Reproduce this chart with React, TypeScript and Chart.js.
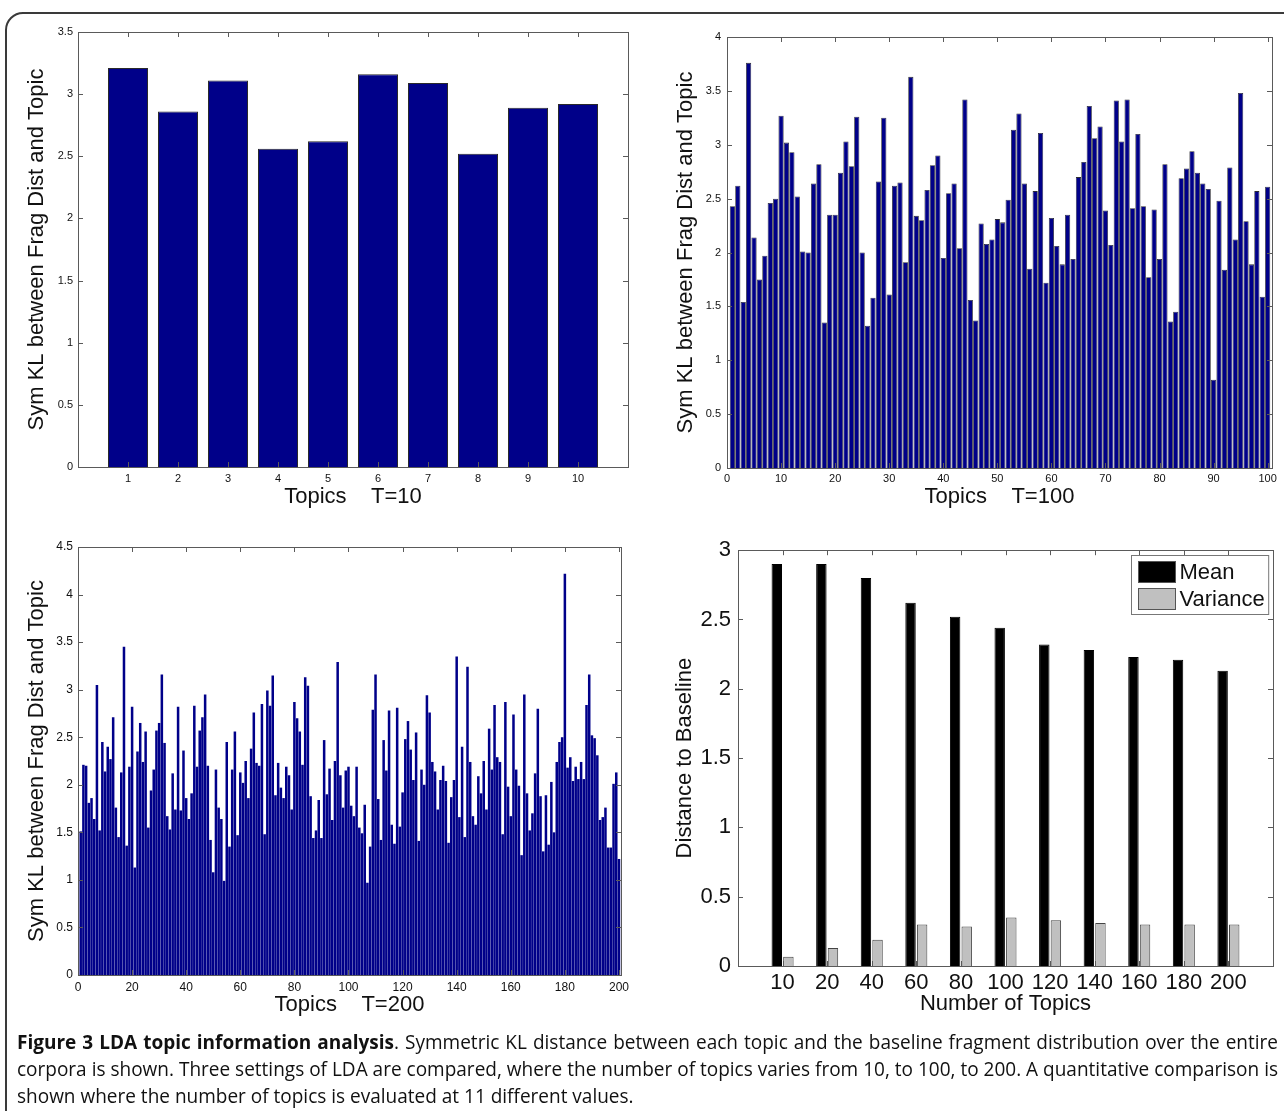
import React, { useEffect, useRef } from 'react';
import { Chart, registerables } from 'chart.js';

Chart.register(...registerables);

const FONT = '"Liberation Sans", Arial, Helvetica, sans-serif';
const BLUE = '#000089';

// ---------- Data ----------
const t10Topics = [1, 2, 3, 4, 5, 6, 7, 8, 9, 10];
const t10Values = [3.21, 2.86, 3.11, 2.56, 2.62, 3.16, 3.09, 2.52, 2.89, 2.92];
const t10XTicks = [1, 2, 3, 4, 5, 6, 7, 8, 9, 10];
const t10YTicks = [0, 0.5, 1, 1.5, 2, 2.5, 3, 3.5];

const t100Topics = Array.from({ length: 100 }, (_, i) => i + 1);
const t100Values = [
  2.43, 2.62, 1.54, 3.76, 2.14, 1.75, 1.97, 2.46, 2.5, 3.27,
  3.02, 2.93, 2.52, 2.01, 2.0, 2.64, 2.82, 1.35, 2.35, 2.35,
  2.74, 3.03, 2.8, 3.26, 2.0, 1.32, 1.58, 2.66, 3.25, 1.61,
  2.62, 2.65, 1.91, 3.63, 2.34, 2.3, 2.58, 2.81, 2.9, 1.95,
  2.55, 2.64, 2.04, 3.42, 1.56, 1.37, 2.27, 2.08, 2.12, 2.31,
  2.28, 2.49, 3.14, 3.29, 2.64, 1.85, 2.57, 3.11, 1.72, 2.32,
  2.06, 1.89, 2.35, 1.94, 2.7, 2.84, 3.36, 3.06, 3.17, 2.39,
  2.07, 3.41, 3.03, 3.42, 2.41, 3.1, 2.43, 1.77, 2.4, 1.94,
  2.82, 1.36, 1.45, 2.69, 2.78, 2.94, 2.74, 2.64, 2.59, 0.82,
  2.48, 1.84, 2.79, 2.12, 3.48, 2.29, 1.89, 2.57, 1.59, 2.61,
];
const t100XTicks = [0, 10, 20, 30, 40, 50, 60, 70, 80, 90, 100];
const t100YTicks = [0, 0.5, 1, 1.5, 2, 2.5, 3, 3.5, 4];

const t200Topics = Array.from({ length: 200 }, (_, i) => i + 1);
const t200Values = [
  1.51, 2.21, 2.2, 1.81, 1.86, 1.64, 3.05, 1.52, 2.45, 2.14,
  2.4, 2.27, 2.71, 1.76, 1.45, 2.13, 3.45, 1.36, 2.19, 2.82,
  1.13, 2.35, 2.65, 2.24, 2.56, 1.55, 1.94, 2.16, 2.57, 2.65,
  3.16, 2.44, 1.67, 1.53, 2.12, 1.74, 2.82, 1.73, 2.36, 1.86,
  1.64, 1.91, 2.83, 2.19, 2.57, 2.71, 2.95, 2.2, 1.42, 1.08,
  2.16, 1.76, 1.64, 0.99, 2.45, 1.35, 2.16, 2.56, 1.47, 2.13,
  2.02, 2.25, 1.86, 2.38, 2.76, 2.23, 2.2, 2.85, 1.48, 2.99,
  2.83, 3.15, 1.89, 2.23, 1.97, 1.86, 2.19, 2.1, 1.74, 2.87,
  2.7, 2.56, 2.21, 3.13, 3.04, 1.88, 1.44, 1.52, 1.84, 1.44,
  2.47, 1.9, 2.17, 1.63, 2.25, 3.29, 2.1, 1.76, 2.15, 2.19,
  1.78, 1.67, 2.19, 1.55, 1.49, 1.79, 0.97, 1.35, 2.79, 3.16,
  1.85, 1.42, 2.47, 2.15, 2.78, 1.58, 1.38, 2.81, 1.56, 1.92,
  2.48, 2.67, 2.37, 2.05, 2.55, 1.41, 2.16, 2.0, 2.94, 2.76,
  2.24, 2.14, 1.74, 2.05, 2.2, 2.04, 1.39, 1.87, 2.05, 3.35,
  1.66, 2.4, 1.45, 3.24, 2.24, 1.67, 1.58, 2.09, 1.91, 2.25,
  1.74, 2.59, 2.16, 2.84, 2.29, 2.24, 1.48, 2.87, 1.98, 1.67,
  2.74, 2.16, 1.99, 1.26, 2.95, 1.91, 1.52, 1.7, 2.12, 2.8,
  1.88, 1.3, 1.89, 1.37, 2.03, 1.5, 2.24, 2.45, 2.5, 4.22,
  2.18, 2.29, 2.04, 2.19, 2.06, 2.24, 2.06, 2.84, 3.16, 2.52,
  2.49, 2.31, 1.63, 1.66, 1.76, 1.34, 1.34, 2.01, 2.13, 1.22,
];
const t200XTicks = [0, 20, 40, 60, 80, 100, 120, 140, 160, 180, 200];
const t200YTicks = [0, 0.5, 1, 1.5, 2, 2.5, 3, 3.5, 4, 4.5];

const numTopicsLabels = ['10', '20', '40', '60', '80', '100', '120', '140', '160', '180', '200'];
const numTopicsPos = [1, 2, 3, 4, 5, 6, 7, 8, 9, 10, 11];
const meanValues = [2.9, 2.9, 2.8, 2.62, 2.52, 2.44, 2.32, 2.28, 2.23, 2.21, 2.13];
const varianceValues = [0.066, 0.13, 0.19, 0.3, 0.285, 0.35, 0.33, 0.31, 0.3, 0.3, 0.3];
const summaryYTicks = [0, 0.5, 1, 1.5, 2, 2.5, 3];

// ---------- Plugins ----------
const matlabAxes = {
  id: 'matlabAxes',
  afterDatasetsDraw(chart: any) {
    const { ctx, chartArea: a, scales } = chart;
    const len = 5;
    ctx.save();
    ctx.strokeStyle = '#5a5a5a';
    ctx.lineWidth = 1;
    ctx.beginPath();
    for (const t of scales.x.ticks) {
      const px = Math.round(scales.x.getPixelForValue(t.value)) + 0.5;
      ctx.moveTo(px, a.bottom);
      ctx.lineTo(px, a.bottom - len);
      ctx.moveTo(px, a.top);
      ctx.lineTo(px, a.top + len);
    }
    for (const t of scales.y.ticks) {
      const py = Math.round(scales.y.getPixelForValue(t.value)) + 0.5;
      ctx.moveTo(a.left, py);
      ctx.lineTo(a.left + len, py);
      ctx.moveTo(a.right, py);
      ctx.lineTo(a.right - len, py);
    }
    ctx.stroke();
    ctx.strokeRect(
      Math.round(a.left) + 0.5,
      Math.round(a.top) + 0.5,
      Math.round(a.right - a.left),
      Math.round(a.bottom - a.top)
    );
    ctx.restore();
  },
};

const insideLegend = {
  id: 'insideLegend',
  afterDraw(chart: any) {
    const { ctx, chartArea: a } = chart;
    const items = chart.data.datasets;
    ctx.save();
    ctx.font = `22px ${FONT}`;
    const sw = 37, sh = 21, pad = 6, gap = 4, rowH = 27.5, topPad = 5;
    const textW = Math.max(...items.map((d: any) => ctx.measureText(d.label).width));
    const w = pad + sw + gap + textW + 5;
    const h = topPad * 2 + rowH * items.length - 6;
    const x0 = Math.round(a.right - 5 - w) + 0.5;
    const y0 = Math.round(a.top + 5) + 0.5;
    ctx.fillStyle = '#fff';
    ctx.fillRect(x0, y0, w, h);
    ctx.strokeStyle = '#777';
    ctx.lineWidth = 1;
    ctx.strokeRect(x0, y0, w, h);
    items.forEach((d: any, i: number) => {
      const sy = Math.round(y0 + topPad + i * rowH) + 0.5;
      const sx = Math.round(x0 + pad) + 0.5;
      ctx.fillStyle = d.backgroundColor;
      ctx.fillRect(sx, sy, sw, sh);
      ctx.strokeStyle = '#555';
      ctx.strokeRect(sx, sy, sw, sh);
      ctx.fillStyle = '#111';
      ctx.textBaseline = 'middle';
      ctx.textAlign = 'left';
      ctx.fillText(d.label, sx + sw + gap, sy + sh / 2 + 1);
    });
    ctx.restore();
  },
};

// ---------- Config builders ----------
type PanelOpts = {
  datasets: any[];
  xMin: number;
  xMax: number;
  xTicks: number[];
  xLabel?: (v: number) => string;
  yMax: number;
  yTicks: number[];
  xTitle: string;
  yTitle: string;
  tickSize: number;
  xTickPad: number;
  yTickPad: number;
  yTitlePad: number;
  xTitlePad: number;
  yWidth: number;
  xHeight: number;
  padTop: number;
  padRight: number;
  catPct: number;
  barPct: number;
  legend?: boolean;
};

function buildConfig(o: PanelOpts): any {
  const tickFont = { family: FONT, size: o.tickSize };
  const titleFont = { family: FONT, size: 22 };
  return {
    type: 'bar',
    data: { datasets: o.datasets },
    plugins: o.legend ? [matlabAxes, insideLegend] : [matlabAxes],
    options: {
      animation: false,
      responsive: false,
      devicePixelRatio: 1,
      layout: { padding: { top: o.padTop, right: o.padRight, left: 0, bottom: 0 } },
      datasets: { bar: { categoryPercentage: o.catPct, barPercentage: o.barPct } },
      plugins: { legend: { display: false }, tooltip: { enabled: false } },
      scales: {
        x: {
          type: 'linear',
          min: o.xMin,
          max: o.xMax,
          offset: false,
          grid: { display: false, offset: false, drawTicks: false },
          border: { display: false },
          afterBuildTicks: (s: any) => {
            s.ticks = o.xTicks.map((v) => ({ value: v }));
          },
          afterFit: (s: any) => {
            s.height = o.xHeight;
          },
          ticks: {
            autoSkip: false,
            maxRotation: 0,
            minRotation: 0,
            padding: o.xTickPad,
            font: tickFont,
            color: '#111',
            callback: (v: any) => (o.xLabel ? o.xLabel(Number(v)) : String(v)),
          },
          title: {
            display: true,
            text: o.xTitle,
            font: titleFont,
            color: '#111',
            padding: { top: 0, bottom: o.xTitlePad },
          },
        },
        y: {
          type: 'linear',
          min: 0,
          max: o.yMax,
          grid: { display: false, drawTicks: false },
          border: { display: false },
          afterBuildTicks: (s: any) => {
            s.ticks = o.yTicks.map((v) => ({ value: v }));
          },
          afterFit: (s: any) => {
            s.width = o.yWidth;
          },
          ticks: {
            padding: o.yTickPad,
            font: tickFont,
            color: '#111',
            callback: (v: any) => String(v),
          },
          title: {
            display: true,
            text: o.yTitle,
            font: titleFont,
            color: '#111',
            padding: { top: o.yTitlePad, bottom: 0 },
          },
        },
      },
    },
  };
}

const YTITLE = 'Sym KL between Frag Dist and Topic';

const panels = [
  {
    left: 20, top: 20, width: 620, height: 500,
    config: () =>
      buildConfig({
        datasets: [{
          label: 'T=10',
          data: t10Topics.map((x, i) => ({ x, y: t10Values[i] })),
          backgroundColor: BLUE, borderColor: '#2a2a2a', borderWidth: 1,
        }],
        xMin: 0, xMax: 11, xTicks: t10XTicks, yMax: 3.5, yTicks: t10YTicks,
        xTitle: 'Topics    T=10', yTitle: YTITLE, tickSize: 11,
        xTickPad: 5, yTickPad: 5, yTitlePad: 4, xTitlePad: 10,
        yWidth: 58, xHeight: 53, padTop: 12, padRight: 12, catPct: 1, barPct: 0.8,
      }),
  },
  {
    left: 665, top: 20, width: 619, height: 500,
    config: () =>
      buildConfig({
        datasets: [{
          label: 'T=100',
          data: t100Topics.map((x, i) => ({ x, y: t100Values[i] })),
          backgroundColor: BLUE, borderColor: '#2b2b33', borderWidth: 0.8,
        }],
        xMin: 0, xMax: 100.8, xTicks: t100XTicks, yMax: 4, yTicks: t100YTicks,
        xTitle: 'Topics    T=100', yTitle: YTITLE, tickSize: 11,
        xTickPad: 4, yTickPad: 6, yTitlePad: 8, xTitlePad: 10,
        yWidth: 62, xHeight: 52, padTop: 17, padRight: 12, catPct: 1, barPct: 0.96,
      }),
  },
  {
    left: 20, top: 530, width: 620, height: 500,
    config: () =>
      buildConfig({
        datasets: [{
          label: 'T=200',
          data: t200Topics.map((x, i) => ({ x, y: t200Values[i] })),
          backgroundColor: BLUE, borderWidth: 0,
        }],
        xMin: 0, xMax: 200.75, xTicks: t200XTicks, yMax: 4.5, yTicks: t200YTicks,
        xTitle: 'Topics    T=200', yTitle: YTITLE, tickSize: 12,
        xTickPad: 5, yTickPad: 5, yTitlePad: 4, xTitlePad: 12,
        yWidth: 58, xHeight: 55, padTop: 17, padRight: 19, catPct: 1, barPct: 0.93,
      }),
  },
  {
    left: 665, top: 530, width: 619, height: 500,
    config: () =>
      buildConfig({
        datasets: [
          {
            label: 'Mean',
            data: numTopicsPos.map((x, i) => ({ x, y: meanValues[i] })),
            backgroundColor: '#000000', borderColor: '#000000', borderWidth: 1,
          },
          {
            label: 'Variance',
            data: numTopicsPos.map((x, i) => ({ x, y: varianceValues[i] })),
            backgroundColor: '#c0c0c0', borderColor: '#444444', borderWidth: 1,
          },
        ],
        xMin: 0, xMax: 12, xTicks: numTopicsPos, xLabel: (v) => numTopicsLabels[v - 1] ?? '',
        yMax: 3, yTicks: summaryYTicks,
        xTitle: 'Number of Topics', yTitle: 'Distance to Baseline', tickSize: 22,
        xTickPad: 4, yTickPad: 7, yTitlePad: 7, xTitlePad: 13,
        yWidth: 73, xHeight: 64, padTop: 14, padRight: 11, catPct: 0.52, barPct: 0.9,
        legend: true,
      }),
  },
];

function ChartCanvas(props: { left: number; top: number; width: number; height: number; config: () => any }) {
  const ref = useRef<HTMLCanvasElement>(null);
  useEffect(() => {
    const chart = new Chart(ref.current as HTMLCanvasElement, props.config());
    return () => chart.destroy();
  }, []);
  return (
    <canvas
      ref={ref}
      width={props.width}
      height={props.height}
      style={{ position: 'absolute', left: props.left, top: props.top, width: props.width, height: props.height }}
    />
  );
}

const CAP_SCALE = 0.95;
const CAP_WIDTH = 1261;

const lineStyle = (justify: boolean): React.CSSProperties => ({
  position: 'absolute',
  left: 0,
  width: CAP_WIDTH / CAP_SCALE,
  whiteSpace: 'nowrap',
  textAlign: justify ? 'justify' : 'left',
  textAlignLast: justify ? 'justify' : 'left',
  transform: `scaleX(${CAP_SCALE})`,
  transformOrigin: 'left top',
  fontSize: 20,
  lineHeight: '27px',
  height: 27,
});

export default function App() {
  return (
    <div
      style={{
        position: 'fixed', left: 0, top: 0, width: 1284, height: 1111,
        overflow: 'hidden', background: '#fff',
      }}
    >
      <div
        style={{
          position: 'absolute', left: 5, top: 12, width: 1330, height: 1160,
          border: '2px solid #3a3a3a', borderRadius: 18, boxSizing: 'border-box',
        }}
      />
      {panels.map((p, i) => (
        <ChartCanvas key={i} {...p} />
      ))}
      <div
        style={{
          position: 'absolute', left: 17, top: 1028, width: CAP_WIDTH, height: 82,
          fontFamily: '"Open Sans", "Noto Sans", sans-serif', color: '#111',
        }}
      >
        <div style={{ ...lineStyle(true), top: 0 }}>
          <b>Figure 3 LDA topic information analysis</b>. Symmetric KL distance between each topic and the baseline fragment distribution over the entire
        </div>
        <div style={{ ...lineStyle(true), top: 27 }}>
          corpora is shown. Three settings of LDA are compared, where the number of topics varies from 10, to 100, to 200. A quantitative comparison is
        </div>
        <div style={{ ...lineStyle(false), top: 54 }}>
          shown where the number of topics is evaluated at 11 different values.
        </div>
      </div>
    </div>
  );
}
